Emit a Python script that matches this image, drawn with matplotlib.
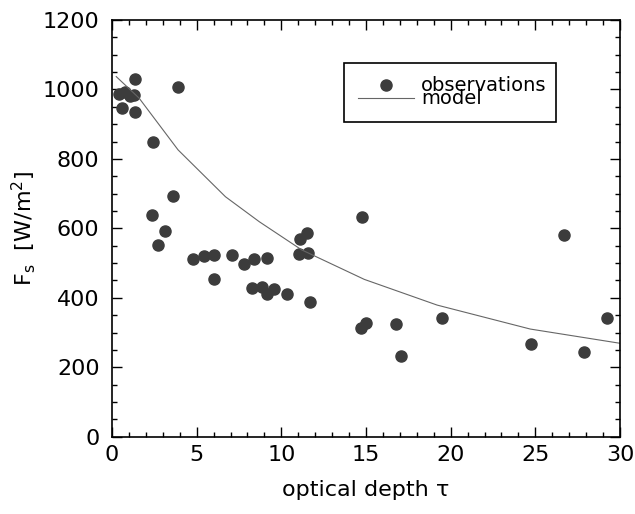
import matplotlib
matplotlib.use("Agg")
import matplotlib.pyplot as plt
from matplotlib.ticker import MultipleLocator

# observed surface flux vs optical depth
tau_obs = [0.43, 0.79, 1.08, 1.28, 0.59, 1.34, 1.34, 3.90, 2.40, 3.59,
           2.38, 3.15, 2.70, 4.80, 5.42, 6.01, 6.01, 7.07, 7.78, 8.39,
           9.16, 8.26, 8.85, 9.14, 9.59, 10.34, 11.07, 11.58, 11.11, 11.54,
           11.68, 14.76, 14.70, 14.99, 16.80, 17.08, 19.50, 24.72, 26.70, 27.88,
           29.21]
F_obs = [986, 994, 981, 984, 948, 1030, 936, 1006, 850, 693,
         637, 593, 552, 513, 520, 522, 453, 523, 496, 513,
         514, 427, 432, 412, 424, 411, 525, 529, 570, 588,
         389, 634, 312, 327, 325, 232, 341, 268, 581, 245,
         343]

# model curve
tau_model = [0.25, 1.6, 3.9, 6.7, 8.7, 11.2, 14.9, 19.2, 24.7, 30.0]
F_model = [1037, 975, 826, 691, 619, 538, 453, 379, 310, 269]

plt.rcParams['font.family'] = ['DejaVu Sans']

fig = plt.figure(figsize=(6.35, 5.14), dpi=100)
ax = fig.add_axes([0.1764, 0.1504, 0.8, 0.8107])

ax.plot(tau_obs, F_obs, 'o', color='#3c3c3c', markersize=8, label='observations')
ax.plot(tau_model, F_model, '-', color='#666666', linewidth=0.8, label='model')

ax.set_xlim(0, 30)
ax.set_ylim(0, 1200)
ax.xaxis.set_major_locator(MultipleLocator(5))
ax.xaxis.set_minor_locator(MultipleLocator(1))
ax.yaxis.set_major_locator(MultipleLocator(200))
ax.yaxis.set_minor_locator(MultipleLocator(50))
ax.tick_params(which='both', direction='in', top=True, right=True,
               labelsize=16, width=1)
ax.tick_params(axis='y', which='major', pad=9)
ax.tick_params(axis='x', which='major', pad=6)
ax.tick_params(which='major', length=7)
ax.tick_params(which='minor', length=3.5)
for s in ax.spines.values():
    s.set_linewidth(1.2)

ax.set_xlabel('optical depth τ', fontsize=16, labelpad=11)
ax.set_ylabel(r'F$_\mathrm{s}$  [W/m$^2$]', fontsize=16, labelpad=3)

leg = ax.legend(loc='upper left', bbox_to_anchor=(0.457, 0.7576, 0.4165, 0.1399),
                mode='expand', borderaxespad=0,
                frameon=True, fancybox=False, edgecolor='black',
                framealpha=1, fontsize=14, labelspacing=-0.3,
                handlelength=2.9, handletextpad=0.35, borderpad=0.7)
leg.get_frame().set_linewidth(1.2)

fig.savefig('out.png', dpi=100)
